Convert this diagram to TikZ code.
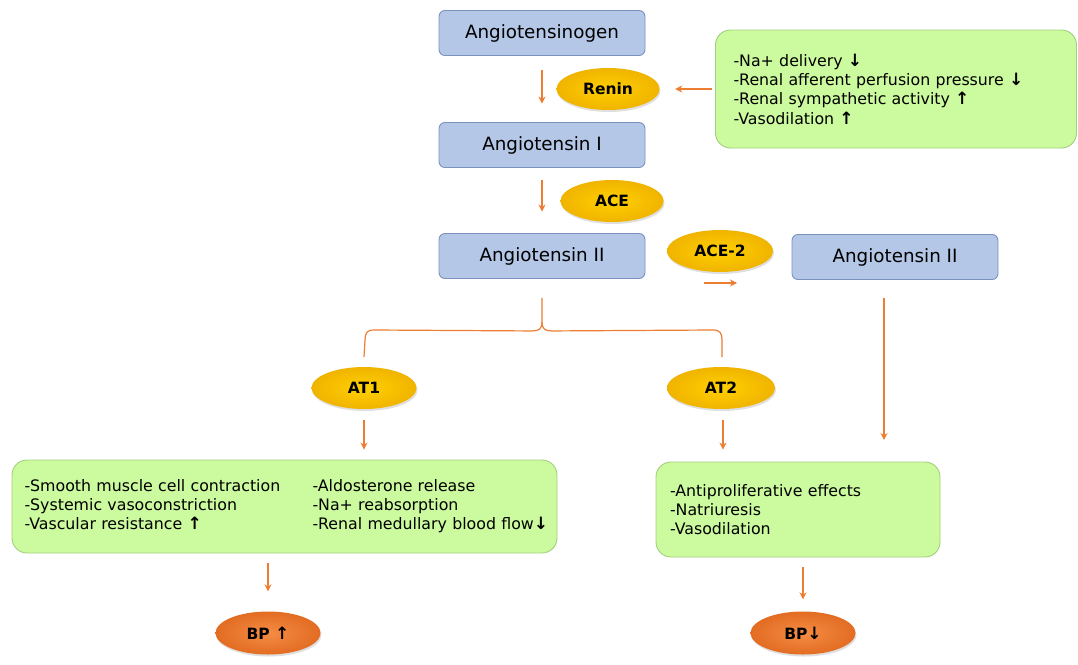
\documentclass[tikz,border=0pt]{standalone}
\usepackage{fontspec}
\setmainfont{DejaVu Sans}
\usetikzlibrary{arrows.meta,shadows,calc,shapes.geometric}
\definecolor{bfill}{HTML}{B4C7E7}
\definecolor{bdraw}{HTML}{7A92BC}
\definecolor{gfill}{HTML}{CCFA9E}
\definecolor{gdraw}{HTML}{A3CF7C}
\definecolor{yin}{HTML}{FFD000}
\definecolor{yout}{HTML}{F0B400}
\definecolor{oin}{HTML}{F58C45}
\definecolor{oout}{HTML}{E26C22}
\definecolor{orr}{HTML}{ED7D31}
\newcommand{\upar}{{\bfseries\fontsize{17}{0}\selectfont ↑}}
\newcommand{\dnar}{{\bfseries\fontsize{17}{0}\selectfont ↓}}
\begin{document}
\begin{tikzpicture}[x=1pt,y=-1pt,
  bluebox/.style={draw=bdraw, fill=bfill, rounded corners=6pt, line width=0.9pt,
    minimum width=206pt, minimum height=45pt, inner sep=0pt,
    font=\fontsize{18.3}{20}\selectfont},
  greenbox/.style={draw=gdraw, fill=gfill, rounded corners=15pt, line width=0.9pt,
    align=left, inner ysep=0pt, font=\fontsize{15.8}{19.3}\selectfont},
  enz/.style={ellipse, inner color=yin, outer color=yout, minimum width=103pt,
    minimum height=42pt, inner sep=0pt, font=\bfseries\fontsize{15.5}{18}\selectfont,
    drop shadow={shadow xshift=1pt, shadow yshift=-2pt, opacity=0.25}},
  bp/.style={ellipse, inner color=oin, outer color=oout, minimum width=105pt,
    minimum height=43pt, inner sep=0pt, font=\bfseries\fontsize{15.5}{18}\selectfont,
    drop shadow={shadow xshift=1pt, shadow yshift=-2pt, opacity=0.25}},
  arr/.style={draw=orr, line width=1.2pt, -{Stealth[length=7pt,width=7pt]}},
  link/.style={draw=orr, line width=1.2pt}]
\useasboundingbox (0,0) rectangle (1078,664);

\node[bluebox] (ago) at (542,33) {Angiotensinogen};
\node[enz] (renin) at (608,89) {Renin};
\node[bluebox] (a1) at (542,145) {Angiotensin I};
\node[enz] (ace) at (612,201) {ACE};
\node[bluebox] (a2) at (542,256) {Angiotensin II};
\node[enz, minimum width=106pt] (ace2) at (720,251) {ACE-2};
\node[bluebox] (a2r) at (895,257) {Angiotensin II};

\node[greenbox, minimum width=361pt, minimum height=118pt, text width=325pt, inner xsep=18pt]
  (cond) at (896,89) {-Na+ delivery \dnar\\-Renal afferent perfusion pressure \dnar\\-Renal sympathetic activity \upar\\-Vasodilation \upar};

\node[enz, minimum width=105pt] (at1) at (364,388) {AT1};
\node[enz, minimum width=108pt] (at2) at (721,388) {AT2};

\node[greenbox, minimum width=545pt, minimum height=93pt, text width=520pt, inner xsep=12.5pt]
  (eff1) at (284.5,506.5) {\begin{tabular}{@{}p{288pt}@{}l@{}}
  -Smooth muscle cell contraction & -Aldosterone release\\
  -Systemic vasoconstriction & -Na+ reabsorption\\
  -Vascular resistance \upar & -Renal medullary blood flow\dnar
  \end{tabular}};
\node[greenbox, minimum width=284pt, minimum height=95pt, text width=256pt, inner xsep=14pt]
  (eff2) at (798,509.5) {-Antiproliferative effects\\-Natriuresis\\-Vasodilation};

\node[bp] (bp1) at (268,633) {BP \upar};
\node[bp] (bp2) at (803,633) {BP\dnar};

% arrows
\draw[arr, shorten <=14.5pt, shorten >=18.5pt] (ago.south) -- (a1.north);
\draw[arr, shorten <=12.5pt, shorten >=21.5pt] (a1.south) -- (a2.north);
\draw[arr, shorten <=3.5pt, shorten >=15.5pt] (cond.west) -- (renin.east);
\coordinate (c1) at (704,283);
\coordinate (c2) at (737,283);
\draw[arr] (c1) -- (c2);
\coordinate (r1) at (884,298);
\coordinate (r2) at (884,440);
\draw[arr] (r1) -- (r2);

% brace
\coordinate (btop) at ($(a2.south)+(0,19)$);
\coordinate (bmid) at ($(a2.south)+(0,43)$);
\coordinate (bl) at (at1.north |- 0,357);
\coordinate (br) at (722,357);
\draw[link] (btop) -- (bmid) .. controls ($(bmid)+(0,7)$) and ($(bmid)+(-3,9)$) .. ($(bmid)+(-10,9)$)
  -- (374,330) .. controls (367,330) and (365,333) .. (365,340) -- (bl);
\draw[link] (bmid) .. controls ($(bmid)+(0,7)$) and ($(bmid)+(3,9)$) .. ($(bmid)+(10,9)$)
  -- (713,330) .. controls (720,330) and (722,333) .. (722,340) -- (br);

\draw[arr, shorten <=11pt, shorten >=10pt] (at1.south) -- (at1.south |- eff1.north);
\draw[arr, shorten <=11pt, shorten >=12pt] ($(at2.south)+(2,0)$) -- ($(at2.south |- eff2.north)+(2,0)$);
\draw[arr, shorten <=10pt, shorten >=20pt] (bp1.north |- eff1.south) -- (bp1.north);
\draw[arr, shorten <=10pt, shorten >=12pt] (bp2.north |- eff2.south) -- (bp2.north);
\end{tikzpicture}
\end{document}
